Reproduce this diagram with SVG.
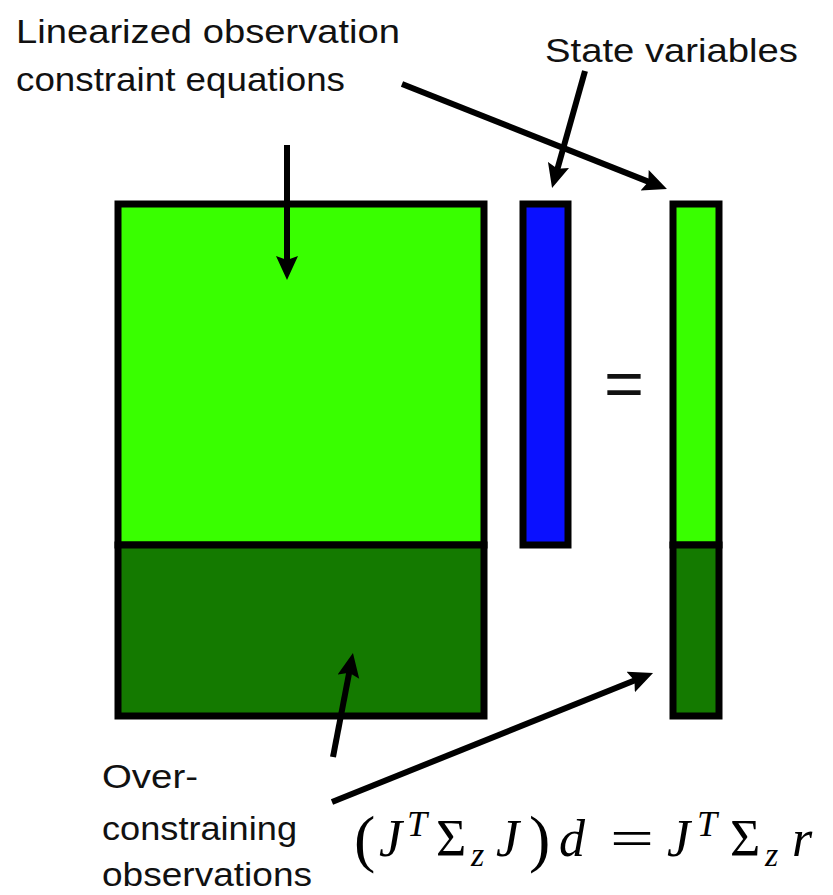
<svg xmlns="http://www.w3.org/2000/svg" width="833" height="895" viewBox="0 0 833 895">
  <style>
    .box { stroke: #000; stroke-width: 7; stroke-linejoin: miter; }
    .lg { fill: #39FF00; }
    .dg { fill: #147A00; }
    .bl { fill: #0A10FF; }
    .lbl { font-family: "Liberation Sans", Arial, sans-serif; font-size: 34px; fill: #111; }
    .conn { stroke: #000; stroke-width: 6; fill: none; marker-end: url(#ah); }
    .m { font-family: "Liberation Serif", "DejaVu Serif", serif; fill: #000; }
    .it { font-style: italic; }
    .big { font-size: 52px; }
    .sup { font-size: 36px; }
    .sub { font-size: 34px; }
    .par { font-size: 64px; }
  </style>
  <defs>
    <marker id="ah" markerUnits="userSpaceOnUse" markerWidth="26" markerHeight="24" refX="12" refY="11" orient="auto" viewBox="0 0 26 24">
      <path d="M0,0 L24,11 L0,22 L4,11 z" fill="#000"/>
    </marker>
  </defs>

  <rect width="833" height="895" fill="#fff"/>

  <g id="matrix-J">
    <rect class="box lg" x="118" y="204" width="366" height="341"/>
    <rect class="box dg" x="118" y="545" width="366" height="171"/>
  </g>

  <g id="state-vector">
    <rect class="box bl" x="523" y="204" width="45" height="341"/>
  </g>

  <g id="equals">
    <text class="lbl" x="604" y="406" style="font-size:64px" textLength="40" lengthAdjust="spacingAndGlyphs">=</text>
  </g>

  <g id="residual-vector">
    <rect class="box lg" x="673" y="204" width="46" height="341"/>
    <rect class="box dg" x="673" y="545" width="46" height="171"/>
  </g>

  <g id="label-linearized">
    <text class="lbl" x="16" y="43" textLength="384" lengthAdjust="spacingAndGlyphs">Linearized observation</text>
    <text class="lbl" x="16" y="91" textLength="329" lengthAdjust="spacingAndGlyphs">constraint equations</text>
  </g>

  <g id="label-state">
    <text class="lbl" x="545" y="62" textLength="253" lengthAdjust="spacingAndGlyphs">State variables</text>
  </g>

  <g id="label-over">
    <text class="lbl" x="102" y="788" textLength="96" lengthAdjust="spacingAndGlyphs">Over-</text>
    <text class="lbl" x="102" y="840" textLength="195" lengthAdjust="spacingAndGlyphs">constraining</text>
    <text class="lbl" x="102" y="886" textLength="210" lengthAdjust="spacingAndGlyphs">observations</text>
  </g>

  <g id="equation">
    <text class="m par" x="354" y="860">(</text>
    <text class="m it big" x="379" y="856">J</text>
    <text class="m it sup" x="407" y="836">T</text>
    <text class="m big" x="436" y="856">Σ</text>
    <text class="m it sub" x="471" y="866">z</text>
    <text class="m it big" x="496" y="856">J</text>
    <text class="m par" x="529" y="860">)</text>
    <text class="m it big" x="559" y="856">d</text>
    <text class="m big" x="610" y="856" textLength="44" lengthAdjust="spacingAndGlyphs">=</text>
    <text class="m it big" x="667" y="856">J</text>
    <text class="m it sup" x="697" y="836">T</text>
    <text class="m big" x="730" y="856">Σ</text>
    <text class="m it sub" x="765" y="866">z</text>
    <text class="m it big" x="792" y="856">r</text>
  </g>

  <g id="connectors">
    <line class="conn" x1="287" y1="145" x2="287" y2="268"/>
    <line class="conn" x1="585" y1="71" x2="555.3" y2="176.5"/>
    <line class="conn" x1="402" y1="84" x2="655.8" y2="184.6"/>
    <line class="conn" x1="333" y1="757" x2="350.7" y2="664.8"/>
    <line class="conn" x1="332" y1="802" x2="641.9" y2="677.5"/>
  </g>
</svg>
